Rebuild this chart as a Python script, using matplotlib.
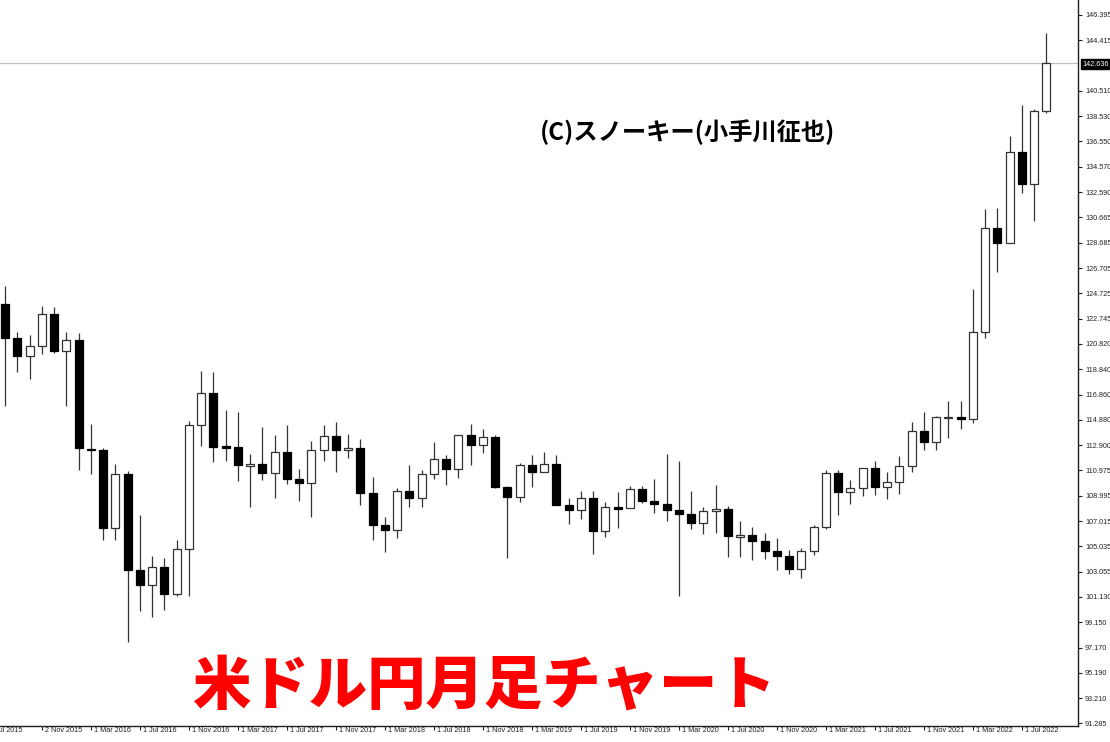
import matplotlib
matplotlib.use('Agg')
import matplotlib.pyplot as plt
import matplotlib.transforms as mtransforms

# USD/JPY monthly, Aug 2015 .. Sep 2022 (last bar still open)
opens = [123.92, 121.22, 119.88, 120.62, 123.12,
         120.21, 121.09, 112.68, 112.57, 106.50, 110.71, 103.20, 102.05, 103.42, 101.35, 104.82, 114.46,
         116.96, 112.80, 112.77, 111.39, 111.49, 110.77, 112.39, 110.25, 109.96, 112.51, 113.66, 112.53,
         112.69, 109.16, 106.67, 106.28, 109.33, 108.81, 110.66, 111.85, 111.03, 113.69, 112.94, 113.57,
         109.69, 108.88, 111.39, 110.85, 111.42, 108.26, 107.85, 108.77, 106.27, 108.07, 108.03, 109.51,
         108.61, 108.35, 107.89, 107.54, 106.88, 107.78, 107.93, 105.83, 105.89, 105.48, 104.66, 104.31,
         103.25, 104.68, 106.58, 110.72, 109.30, 109.57, 111.11, 109.69, 110.02, 111.28, 114.02, 113.14,
         115.08, 115.11, 114.99, 121.70, 129.84, 128.67, 135.73, 133.26, 138.96]
highs = [125.28, 121.75, 121.49, 123.76, 123.67,
         121.69, 121.68, 114.55, 112.68, 111.45, 110.94, 107.49, 104.32, 104.11, 105.53, 114.83, 118.66,
         118.60, 115.62, 115.51, 112.20, 114.37, 113.69, 114.49, 111.05, 113.26, 114.45, 114.73, 113.75,
         113.38, 110.48, 107.29, 109.57, 111.40, 111.00, 113.18, 112.16, 113.70, 114.55, 114.21, 113.71,
         109.73, 111.51, 112.14, 112.40, 112.13, 108.79, 109.32, 109.32, 108.48, 109.29, 109.73, 109.73,
         110.29, 112.23, 111.71, 109.38, 108.09, 109.85, 108.16, 107.05, 106.55, 106.11, 105.68, 104.75,
         104.94, 106.69, 110.97, 110.96, 110.20, 111.11, 111.66, 110.80, 112.08, 114.70, 115.52, 115.19,
         116.35, 116.34, 125.10, 131.26, 131.35, 137.00, 139.39, 139.08, 144.99]
lows = [116.00, 118.61, 118.07, 120.01, 120.10,
        115.98, 110.99, 110.67, 105.55, 105.53, 97.60, 99.99, 99.54, 100.09, 101.20, 101.19, 112.87,
        111.59, 111.69, 110.10, 108.13, 110.23, 108.82, 109.92, 108.60, 107.32, 111.65, 110.84, 111.89,
        108.28, 105.55, 104.64, 105.66, 108.11, 108.12, 110.28, 109.78, 110.38, 111.37, 112.30, 109.55,
        104.10, 108.50, 109.70, 110.84, 108.28, 106.78, 107.21, 104.46, 105.74, 106.48, 108.25, 108.43,
        107.65, 107.00, 101.18, 106.36, 105.99, 106.07, 104.19, 104.19, 104.00, 104.03, 103.18, 102.88,
        102.59, 104.41, 106.37, 107.48, 108.34, 108.96, 109.07, 108.72, 109.11, 110.82, 112.53, 112.55,
        113.47, 114.15, 114.65, 121.28, 126.36, 128.65, 132.51, 130.39, 138.80]
closes = [121.22, 119.88, 120.62, 123.12, 120.21,
          121.09, 112.68, 112.57, 106.50, 110.71, 103.20, 102.05, 103.42, 101.35, 104.82, 114.46, 116.96,
          112.80, 112.77, 111.39, 111.49, 110.77, 112.39, 110.25, 109.96, 112.51, 113.66, 112.53, 112.69,
          109.16, 106.67, 106.28, 109.33, 108.81, 110.66, 111.85, 111.03, 113.69, 112.94, 113.57, 109.69,
          108.88, 111.39, 110.85, 111.42, 108.26, 107.85, 108.77, 106.27, 108.07, 108.03, 109.51, 108.61,
          108.35, 107.89, 107.54, 106.88, 107.78, 107.93, 105.83, 105.89, 105.48, 104.66, 104.31, 103.25,
          104.68, 106.58, 110.72, 109.30, 109.57, 111.11, 109.69, 110.02, 111.28, 114.02, 113.14, 115.08,
          115.11, 114.99, 121.70, 129.84, 128.67, 135.73, 133.26, 138.96, 142.636]

# time labels, every 4 bars starting at Nov 2015 (bar 3)
time_labels = ['2 Nov 2015', '1 Mar 2016', '1 Jul 2016', '1 Nov 2016', '1 Mar 2017', '1 Jul 2017',
               '1 Nov 2017', '1 Mar 2018', '1 Jul 2018', '1 Nov 2018', '1 Mar 2019', '1 Jul 2019',
               '1 Nov 2019', '1 Mar 2020', '1 Jul 2020', '1 Nov 2020', '1 Mar 2021', '1 Jul 2021',
               '1 Nov 2021', '1 Mar 2022', '1 Jul 2022']
price_ticks = [146.395, 144.415, 140.510, 138.530, 136.550, 134.570, 132.590, 130.665, 128.685,
               126.705, 124.725, 122.745, 120.820, 118.840, 116.860, 114.880, 112.900, 110.975,
               108.995, 107.015, 105.035, 103.055, 101.130, 99.150, 97.170, 95.190, 93.210, 91.285]
last_price = 142.636

W, H = 1110, 742
fig = plt.figure(figsize=(W/100.0, H/100.0), dpi=100)
fig.patch.set_facecolor('white')
ax = fig.add_axes([0, 16.0/H, 1078.0/W, 726.0/H])

# price line
ax.axhline(last_price, color='#c0c0c0', lw=0.9, zorder=1)

for i in range(len(opens)):
    o, h, l, c = opens[i], highs[i], lows[i], closes[i]
    ax.vlines(i, l, h, color='#333333', lw=0.9, zorder=2)
    lo = min(o, c)
    ht = abs(c - o)
    if ht < 0.12:
        lo = lo - 0.06
        ht = 0.12
    if c >= o:
        ax.bar(i, ht, bottom=lo, width=0.65, color='white', edgecolor='#333333', lw=0.9, zorder=3)
    else:
        ax.bar(i, ht, bottom=lo, width=0.65, color='black', edgecolor='black', lw=0.9, zorder=3)

ax.set_xlim(-0.41, 87.59)
ax.set_ylim(91.065, 147.56)

for s in ['top', 'left']:
    ax.spines[s].set_visible(False)
for s in ['right', 'bottom']:
    ax.spines[s].set_color('#202020')
    ax.spines[s].set_linewidth(1.0)

lab_font = dict(fontsize=5.2, family='Liberation Sans', color='#202020')

ax.yaxis.tick_right()
ax.set_yticks(price_ticks)
ax.set_yticklabels(['%.3f' % v for v in price_ticks], **lab_font)
ax.tick_params(axis='y', length=3, width=0.8, pad=2, colors='#202020')

xt = list(range(3, 3 + 4 * len(time_labels), 4))
ax.set_xticks(xt)
ax.set_xticklabels([])
ax.tick_params(axis='x', length=3, width=0.8, colors='#202020')
trans = mtransforms.blended_transform_factory(ax.transData, fig.transFigure)
for x, lab in zip(xt, time_labels):
    ax.text(x + 0.25, 1 - 731.0/H, lab, transform=trans, ha='left', va='center',
            clip_on=False, **lab_font)
fig.text(22.0/W, 1 - 731.0/H, 'Jul 2015', ha='right', va='center', **lab_font)

# last price box on the scale
fig.text(1082.0/W, 1 - 64.0/H, '%.3f' % last_price, fontsize=5.2, family='Liberation Sans',
         color='white', ha='left', va='center',
         bbox=dict(boxstyle='square,pad=0.2', fc='black', ec='black'))

fig.text(688.0/W, 1 - 132.0/H, '(C)スノーキー(小手川征也)', fontsize=17.5, fontweight='bold',
         family=['Noto Sans CJK JP', 'DejaVu Sans'], ha='center', va='center', color='black')
fig.text(484.0/W, 1 - 686.0/H, '米ドル円月足チャート', fontsize=42, fontweight='heavy',
         family=['Noto Sans CJK JP', 'DejaVu Sans'], ha='center', va='center', color='#ff0000')

fig.savefig('out.png', dpi=100)
